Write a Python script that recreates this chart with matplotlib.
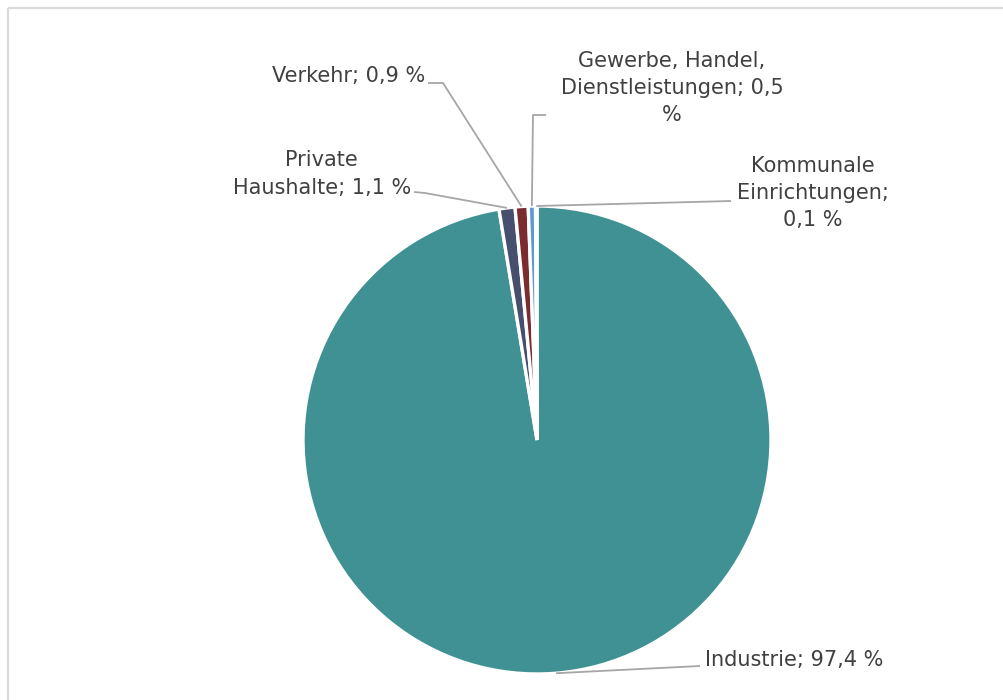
import matplotlib
matplotlib.use("Agg")
import matplotlib.pyplot as plt
import numpy as np

categories = ["Industrie", "Private Haushalte", "Verkehr",
              "Gewerbe, Handel, Dienstleistungen", "Kommunale Einrichtungen"]
values = [97.4, 1.1, 0.9, 0.5, 0.1]
label_texts = ["Industrie; 97,4 %", "Private\nHaushalte; 1,1 %", "Verkehr; 0,9 %",
               "Gewerbe, Handel,\nDienstleistungen; 0,5\n%", "Kommunale\nEinrichtungen;\n0,1 %"]
colors = ["#409194", "#474f6e", "#7b2c2e", "#5b9bd5", "#9ccbd0"]

W, H = 1004, 700
fig = plt.figure(figsize=(W / 100, H / 100), dpi=100)
ax = fig.add_axes([0, 0, 1, 1])

cx, cy, R = 537, H - 440, 234
wedges, _ = ax.pie(values, colors=colors, startangle=90, counterclock=False,
                   center=(cx, cy), radius=R, frame=True,
                   wedgeprops=dict(edgecolor="white", linewidth=2.4))
ax.set_xlim(0, W)
ax.set_ylim(0, H)
ax.set_aspect("equal")
ax.axis("off")

# frame
ax.plot([8.5, 8.5], [-5, H - 7.5], color="#d9d9d9", lw=1.6, clip_on=False, solid_capstyle="butt")
ax.plot([8.5, W + 5], [H - 7.5, H - 7.5], color="#d9d9d9", lw=1.6, clip_on=False, solid_capstyle="butt")

# label layout: (text x, text y center px, ha, elbow points in px)
layout = [
    dict(x=705, y=660, ha="left", path=[(700, 666)]),
    dict(x=411, y=174, ha="right", path=[(425, 193), (414, 192)]),
    dict(x=425, y=76, ha="right", path=[(443, 83), (428, 83)]),
    dict(x=672, y=88, ha="center", path=[(533, 115), (546, 115)]),
    dict(x=813, y=193, ha="center", path=[(731, 201)]),
]

text_color = "#404040"
line_color = "#a6a6a6"
fs = 15
for w, txt, lay in zip(wedges, label_texts, layout):
    ang = np.deg2rad((w.theta1 + w.theta2) / 2)
    ax_ = cx + R * np.cos(ang)
    ay_ = cy + R * np.sin(ang)
    pts = [(ax_, ay_)] + [(px, H - py) for px, py in lay["path"]]
    xs, ys = zip(*pts)
    ax.plot(xs, ys, color=line_color, lw=1.3, solid_capstyle="butt")
    ax.text(lay["x"], H - lay["y"], txt, ha=lay["ha"], va="center",
            fontsize=fs, color=text_color, family="DejaVu Sans",
            linespacing=1.45, multialignment="center")

fig.savefig("out.png", dpi=100, facecolor="white")
